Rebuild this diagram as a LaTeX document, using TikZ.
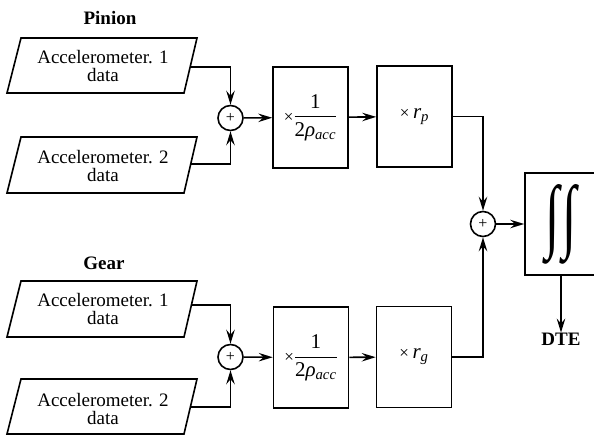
\documentclass[tikz,border=0pt]{standalone}
\usepackage{amsmath}
\usepackage{graphicx}
\usepackage{fontspec}
\setmainfont{Liberation Serif}
\usetikzlibrary{arrows.meta,calc}

\tikzset{
  line/.style={line width=1.6pt},
  flow/.style={line, -{Stealth[length=14pt,width=8.5pt,inset=5pt]}},
  databox/.style={line, line join=miter},
  datatext/.style={align=center, font=\fontsize{19}{17.5}\selectfont, inner sep=0pt},
  opbox/.style={line, draw, minimum width=75pt, minimum height=101pt, inner sep=0pt},
  sumnode/.style={line, draw, circle, minimum size=25pt, inner sep=0pt, font=\fontsize{16}{16}\selectfont},
  heading/.style={font=\fontsize{19}{19}\selectfont\bfseries, inner sep=0pt},
}

% gain texts of the scaling blocks
\newcommand{\gainsize}{\fontsize{21}{21}\selectfont}
\newcommand{\timessign}{{\fontsize{17}{17}\selectfont×}}
\newcommand{\invrho}{\timessign$\dfrac{\text{1}}{\text{2\textit{ρ}\textsubscript{\textit{acc}}}}$}

\begin{document}
\begin{tikzpicture}[x=1pt, y=-1pt]
  \useasboundingbox (0,0) rectangle (594,436);
  \clip (0,0) rectangle (594,436);

  % headings
  \node[heading] (pinion) at (110,18) {Pinion};
  \node[heading] (gear)   at (104,263) {Gear};

  % accelerometer inputs (parallelograms)
  \draw[databox] (7,93) -- (184,93) -- (197,38) -- (21,38) -- cycle;
  \node[datatext] (a1) at (103,66) {Accelerometer. 1\\data};
  \coordinate (a1out) at (190.5,67);

  \draw[databox] (7,193) -- (184,193) -- (197,137) -- (21,137) -- cycle;
  \node[datatext] (a2) at (103,166) {Accelerometer. 2\\data};
  \coordinate (a2out) at (190.5,164);

  \draw[databox] (7,337) -- (184,337) -- (197,281) -- (21,281) -- cycle;
  \node[datatext] (a3) at (103,309) {Accelerometer. 1\\data};
  \coordinate (a3out) at (190.5,305);

  \draw[databox] (7,434) -- (184,434) -- (197,379) -- (21,379) -- cycle;
  \node[datatext] (a4) at (103,409) {Accelerometer. 2\\data};
  \coordinate (a4out) at (190.5,407);

  % summing junctions
  \node[sumnode] (s1) at (230.5,118) {+};
  \node[sumnode] (s3) at (230.5,357) {+};
  \node[sumnode] (s2) at (483,224) {+};

  % scaling blocks
  \node[opbox] (b1) at (310.5,117.5) {\gainsize\invrho};
  \node[opbox] (b2) at (414.5,116.5) {\gainsize\timessign\,\textit{r}\textsubscript{\textit{p}}};
  \node[opbox] (b3) at (311,357.5) {\gainsize\invrho};
  \node[opbox] (b4) at (414,357) {\gainsize\timessign\,\textit{r}\textsubscript{\textit{g}}};

  % double integration block
  \node[opbox, minimum width=72pt, minimum height=102pt] (int) at (561,224)
    {\resizebox{31pt}{58pt}{∫\kern0.5pt∫}};

  % output label
  \node[heading] (dte) at (561,339) {DTE};

  % connectors
  \draw[flow] (a1out) -| (s1.north);
  \draw[flow] (a2out) -| (s1.south);
  \draw[flow] (a3out) -| (s3.north);
  \draw[flow] (a4out) -| (s3.south);
  \draw[flow] (s1) -- (b1);
  \draw[flow] (s3) -- (b3);
  \draw[flow] (b1) -- (b2);
  \draw[flow] (b3) -- (b4);
  \draw[flow] (b2.east) -| (s2.north);
  \draw[flow] (b4.east) -| (s2.south);
  \draw[flow] (s2) -- (int);
  \draw[flow] (int.south) -- (dte.north);
\end{tikzpicture}
\end{document}
